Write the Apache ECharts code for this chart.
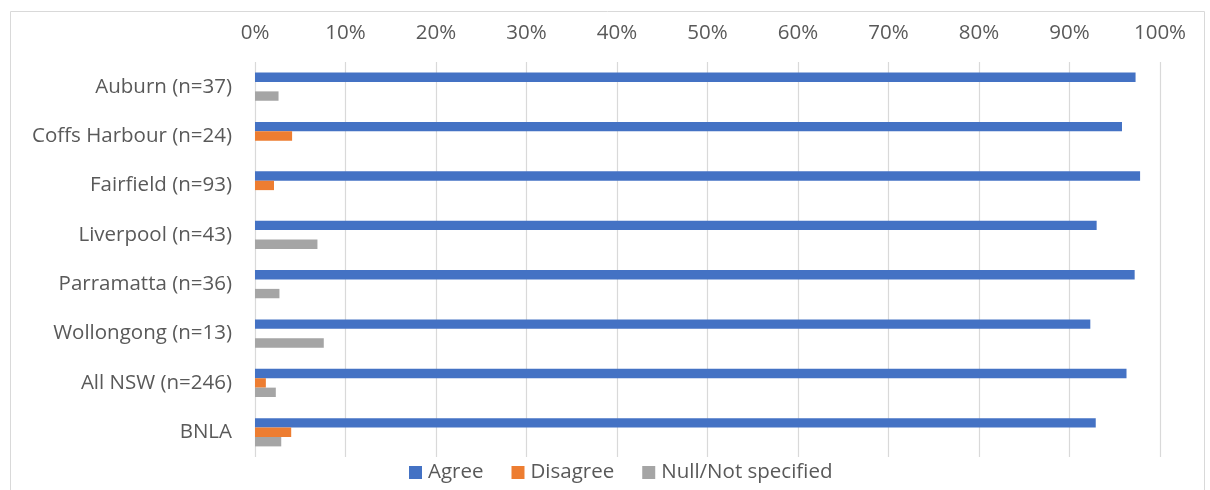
<!DOCTYPE html>
<html>
<head>
<meta charset="utf-8">
<script src="https://cdn.jsdelivr.net/npm/echarts@6/dist/echarts.min.js"></script>
<style>
html,body{margin:0;padding:0;background:#fff;}
#c{width:1210px;height:490px;}
</style>
</head>
<body>
<div id="c"></div>
<script>
const categories = ['Auburn (n=37)','Coffs Harbour (n=24)','Fairfield (n=93)','Liverpool (n=43)','Parramatta (n=36)','Wollongong (n=13)','All NSW (n=246)','BNLA'];
const agree = [97.3, 95.8, 97.8, 93.0, 97.2, 92.3, 96.3, 92.9];
const disagree = [0, 4.1, 2.1, 0, 0, 0, 1.2, 4.0];
const nullNotSpecified = [2.6, 0, 0, 6.9, 2.7, 7.6, 2.3, 2.9];
const seriesNames = ['Agree','Disagree','Null/Not specified'];
const colors = ['#4472C4','#ED7D31','#A5A5A5'];
const FONT = 'Open Sans';

const chart = echarts.init(document.getElementById('c'), null, {renderer:'canvas'});
const mk = (name, data, color) => ({
  name, type:'bar', data, barGap:'0%', barCategoryGap:'43%',
  itemStyle:{color}, emphasis:{disabled:true}, animation:false
});
chart.setOption({
  animation:false,
  textStyle:{fontFamily:FONT},
  graphic:[{type:'rect', shape:{x:10.5,y:11.5,width:1194,height:500}, style:{fill:'none',stroke:'#d9d9d9',lineWidth:1}, silent:true, z:-1}],
  grid:{left:255, right:50, top:62, bottom:33, containLabel:false},
  legend:{
    left:404, top:457, itemWidth:13, itemHeight:13, itemGap:28,
    icon:'rect',
    textStyle:{color:'#595959', fontSize:20.5, fontFamily:FONT, padding:[0,0,0,1]},
    data:seriesNames
  },
  xAxis:{
    type:'value', position:'top', min:0, max:100, interval:10,
    axisLine:{show:false}, axisTick:{show:false},
    axisLabel:{formatter:'{value}%', color:'#595959', fontSize:20.5, fontFamily:FONT, margin:18},
    splitLine:{lineStyle:{color:'#d9d9d9', width:1.2}}
  },
  yAxis:{
    type:'category', data:categories, inverse:true,
    axisLine:{show:false}, axisTick:{show:false},
    axisLabel:{color:'#595959', fontSize:20.5, fontFamily:FONT, margin:23}
  },
  series:[mk(seriesNames[0], agree, colors[0]), mk(seriesNames[1], disagree, colors[1]), mk(seriesNames[2], nullNotSpecified, colors[2])]
});
</script>
</body>
</html>
